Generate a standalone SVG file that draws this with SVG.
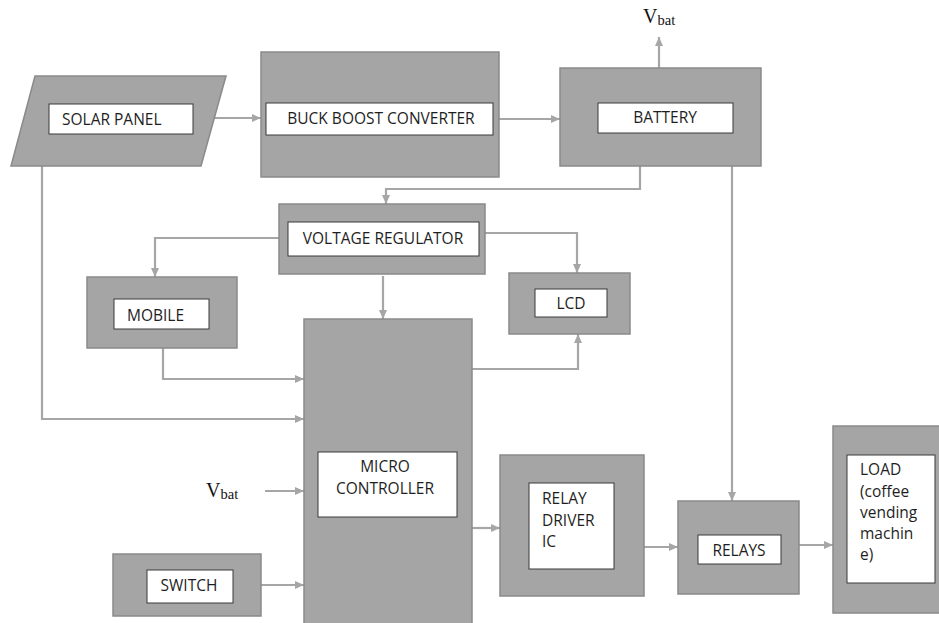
<svg xmlns="http://www.w3.org/2000/svg" width="939" height="623" viewBox="0 0 939 623">
<defs>
<marker id="ah" markerUnits="userSpaceOnUse" markerWidth="10" markerHeight="10" refX="9" refY="5" orient="auto">
<path d="M0,1 L9,5 L0,9 z" fill="#a6a6a6"/>
</marker>
<style>
.blk{fill:#a5a5a5;stroke:#8a8a8a;stroke-width:1.5}
.in{fill:#ffffff;stroke:#3a3a3a;stroke-width:1}
.t{font-family:"Open Sans","Liberation Sans",sans-serif;font-size:15.5px;fill:#1e1e1e}
.c{text-anchor:middle}
.v{font-family:"Liberation Serif","Times New Roman",serif;fill:#111}
.ln{fill:none;stroke:#a6a6a6;stroke-width:2.2;marker-end:url(#ah)}
</style>
</defs>
<rect width="939" height="623" fill="#ffffff"/>

<g id="connectors">
<line class="ln" x1="214" y1="118" x2="261" y2="118"/>
<line class="ln" x1="499" y1="119" x2="560" y2="119"/>
<line class="ln" x1="659" y1="68" x2="659" y2="37"/>
<polyline class="ln" points="640,166 640,189 386,189 386,204"/>
<line class="ln" x1="732" y1="166" x2="732" y2="501"/>
<polyline class="ln" points="279,238 155,238 155,277"/>
<polyline class="ln" points="485,233 577,233 577,273"/>
<line class="ln" x1="383" y1="276" x2="383" y2="319"/>
<polyline class="ln" points="472,369 578,369 578,334"/>
<polyline class="ln" points="163,348 163,379 304,379"/>
<polyline class="ln" points="42,166 42,419 304,419"/>
<line class="ln" x1="265" y1="491" x2="304" y2="491"/>
<line class="ln" x1="261" y1="585" x2="304" y2="585"/>
<line class="ln" x1="472" y1="528" x2="500" y2="528"/>
<line class="ln" x1="644" y1="547" x2="678" y2="547"/>
<line class="ln" x1="799" y1="545" x2="833" y2="545"/>
</g>

<g id="vbat-top">
<text class="v" x="643" y="23" font-size="20">V<tspan font-size="14.5" dy="2">bat</tspan></text>
</g>
<g id="vbat-left">
<text class="v" x="206" y="497" font-size="20">V<tspan font-size="14.5" dy="2">bat</tspan></text>
</g>

<g id="solar-panel">
<polygon class="blk" points="35,76 226,76 201,166 11,166"/>
<rect class="in" x="49" y="104" width="144" height="30"/>
<text class="t" x="62" y="125">SOLAR PANEL</text>
</g>

<g id="buck-boost">
<rect class="blk" x="261" y="52" width="238" height="125"/>
<rect class="in" x="266" y="103" width="227" height="32"/>
<text class="t c" x="381" y="124">BUCK BOOST CONVERTER</text>
</g>

<g id="battery">
<rect class="blk" x="560" y="68" width="201" height="98"/>
<rect class="in" x="598" y="103" width="135" height="30"/>
<text class="t c" x="665" y="123">BATTERY</text>
</g>

<g id="voltage-regulator">
<rect class="blk" x="279" y="204" width="206" height="70"/>
<rect class="in" x="288" y="222" width="191" height="34"/>
<text class="t c" x="383" y="244">VOLTAGE REGULATOR</text>
</g>

<g id="mobile">
<rect class="blk" x="87" y="277" width="150" height="71"/>
<rect class="in" x="114" y="299" width="95" height="30"/>
<text class="t" x="127" y="321">MOBILE</text>
</g>

<g id="lcd">
<rect class="blk" x="509" y="273" width="121" height="61"/>
<rect class="in" x="535" y="289" width="72" height="28"/>
<text class="t c" x="571" y="309">LCD</text>
</g>

<g id="micro-controller">
<rect class="blk" x="304" y="319" width="168" height="310"/>
<rect class="in" x="318" y="452" width="139" height="65"/>
<text class="t c" x="385" y="472">MICRO</text>
<text class="t c" x="385" y="494">CONTROLLER</text>
</g>

<g id="switch">
<rect class="blk" x="113" y="554" width="148" height="62"/>
<rect class="in" x="147" y="570" width="86" height="33"/>
<text class="t c" x="189" y="591">SWITCH</text>
</g>

<g id="relay-driver">
<rect class="blk" x="500" y="455" width="144" height="141"/>
<rect class="in" x="529" y="483" width="85" height="86"/>
<text class="t" x="542" y="504">RELAY</text>
<text class="t" x="542" y="526">DRIVER</text>
<text class="t" x="542" y="547">IC</text>
</g>

<g id="relays">
<rect class="blk" x="678" y="501" width="121" height="93"/>
<rect class="in" x="698" y="535" width="83" height="29"/>
<text class="t c" x="739" y="556">RELAYS</text>
</g>

<g id="load">
<rect class="blk" x="833" y="426" width="110" height="187"/>
<rect class="in" x="847" y="455" width="88" height="128"/>
<text class="t" x="860" y="475">LOAD</text>
<text class="t" x="860" y="497">(coffee</text>
<text class="t" x="860" y="518">vending</text>
<text class="t" x="860" y="539">machin</text>
<text class="t" x="860" y="560">e)</text>
</g>
</svg>
